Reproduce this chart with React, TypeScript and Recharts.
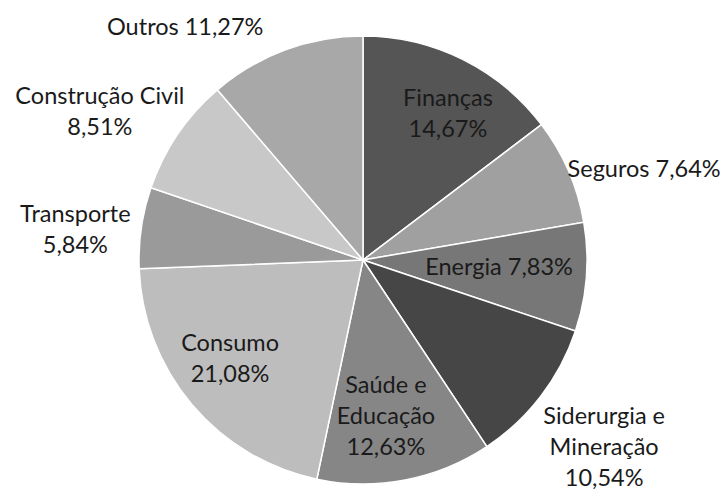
import React from "react";
import { PieChart, Pie, Cell } from "recharts";

const sectors = [
  "Finanças",
  "Seguros",
  "Energia",
  "Siderurgia e Mineração",
  "Saúde e Educação",
  "Consumo",
  "Transporte",
  "Construção Civil",
  "Outros",
];
const shares = [14.67, 7.64, 7.83, 10.54, 12.63, 21.08, 5.84, 8.51, 11.27];
const labelLines = [
  ["Finanças", "14,67%"],
  ["Seguros 7,64%"],
  ["Energia 7,83%"],
  ["Siderurgia e", "Mineração", "10,54%"],
  ["Saúde e", "Educação", "12,63%"],
  ["Consumo", "21,08%"],
  ["Transporte", "5,84%"],
  ["Construção Civil", "8,51%"],
  ["Outros 11,27%"],
];

const colors = [
  "#555555",
  "#a0a0a0",
  "#777777",
  "#464646",
  "#868686",
  "#bdbdbd",
  "#9a9a9a",
  "#c8c8c8",
  "#a8a8a8",
];

// label placement: [angle clockwise from top (deg), radius factor]
const labelPolar: [number, number][] = [
  [30.7, 0.743],
  [72.6, 1.315],
  [94.2, 0.609],
  [128.2, 1.37],
  [171.8, 0.717],
  [232.5, 0.748],
  [275.4, 1.29],
  [299, 1.343],
  [322.3, 1.298],
];

const data = sectors.map((name, i) => ({ name, value: shares[i] }));

const FONT = "Lato, 'Open Sans', sans-serif";
const FS = 23.5;
const LH = 31;
const YSHIFT = -4;

const renderLabel = (props: any) => {
  const { cx, cy, outerRadius, index } = props;
  const [ang, rf] = labelPolar[index];
  const a = (ang * Math.PI) / 180;
  const r = outerRadius * rf;
  const x = cx + r * Math.sin(a);
  const y = cy - r * Math.cos(a) + YSHIFT;
  const lines = labelLines[index];
  const startY = y - ((lines.length - 1) * LH) / 2;
  return (
    <text
      x={x}
      y={startY}
      textAnchor="middle"
      dominantBaseline="central"
      fill="#1a1a1a"
      fontFamily={FONT}
      fontSize={FS}
    >
      {lines.map((l, k) => (
        <tspan key={k} x={x} y={startY + k * LH} dominantBaseline="central">
          {l}
        </tspan>
      ))}
    </text>
  );
};

export default function App() {
  return (
    <div style={{ position: "absolute", left: 0, top: 0, background: "#fff" }}>
      <PieChart width={725} height={490}>
        <Pie
          data={data}
          dataKey="value"
          nameKey="name"
          cx={358}
          cy={255}
          outerRadius={224}
          startAngle={90}
          endAngle={-270}
          stroke="#ffffff"
          strokeWidth={1.5}
          label={renderLabel}
          labelLine={false}
          isAnimationActive={false}
        >
          {data.map((d, i) => (
            <Cell key={d.name} fill={colors[i]} />
          ))}
        </Pie>
      </PieChart>
    </div>
  );
}
